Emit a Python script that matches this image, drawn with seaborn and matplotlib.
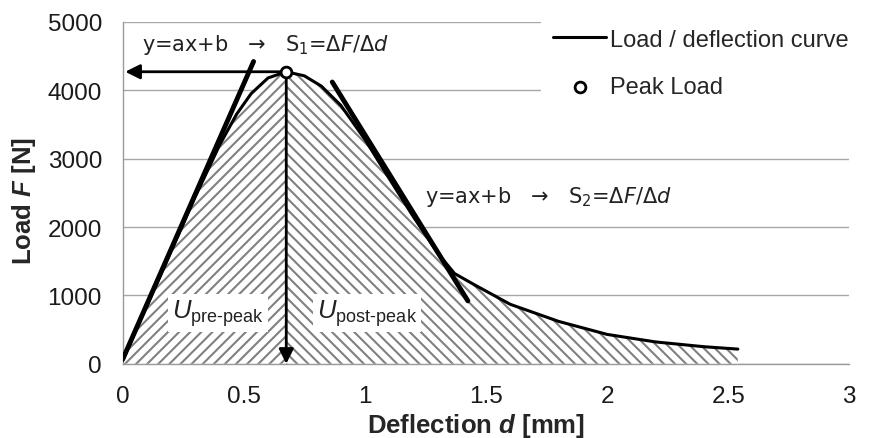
import numpy as np
import pandas as pd
import matplotlib
matplotlib.use("Agg")
import matplotlib.pyplot as plt
import seaborn as sns

# -------------------------------
# data
# -------------------------------
deflection = [0.0, 0.1, 0.2, 0.3, 0.4, 0.47, 0.53, 0.6, 0.675, 0.75, 0.82, 0.9,
              1.0, 1.1, 1.2, 1.3, 1.37, 1.45, 1.6, 1.8, 2.0, 2.2, 2.4, 2.54]
load = [50, 850, 1650, 2450, 3200, 3650, 3950, 4180, 4270, 4210, 4060, 3780,
        3280, 2710, 2150, 1620, 1320, 1160, 870, 620, 430, 320, 250, 215]

# tangent lines (start / end points)
tan1_d = [0.0, 0.54]
tan1_F = [70, 4420]
tan2_d = [0.865, 1.425]
tan2_F = [4120, 920]

x_ticks = [0, 0.5, 1, 1.5, 2, 2.5, 3]
x_tick_labels = ["0", "0.5", "1", "1.5", "2", "2.5", "3"]
y_ticks = [0, 1000, 2000, 3000, 4000, 5000]

df = pd.DataFrame({"d": deflection, "F": load})
ipk = int(np.argmax(load))
peak_d, peak_F = deflection[ipk], load[ipk]

# -------------------------------
# style
# -------------------------------
sns.set_style("white")
plt.rcParams["font.family"] = ["Liberation Sans", "DejaVu Sans"]
plt.rcParams["mathtext.fontset"] = "custom"
plt.rcParams["mathtext.rm"] = "Liberation Sans"
plt.rcParams["mathtext.it"] = "DejaVu Sans:italic"
plt.rcParams["mathtext.sf"] = "DejaVu Sans"
plt.rcParams["mathtext.cal"] = "Liberation Sans:italic"
plt.rcParams["mathtext.bfit"] = "Liberation Sans:italic:bold"
plt.rcParams["hatch.linewidth"] = 1.5

fig = plt.figure(figsize=(8.71, 4.39), dpi=100)
ax = fig.add_axes([0.141, 0.169, 0.834, 0.779])

# hatched areas under the curve
pre = df[df.d <= peak_d]
post = df[df.d >= peak_d]
ax.fill_between(pre.d, 0, pre.F, facecolor="white", edgecolor="#808080",
                hatch="///", linewidth=0, zorder=1)
ax.fill_between(post.d, 0, post.F, facecolor="white", edgecolor="#808080",
                hatch="\\\\\\", linewidth=0, zorder=1)

# curve, tangents, peak
sns.lineplot(data=df, x="d", y="F", color="black", linewidth=2.2, ax=ax,
             label="Load / deflection curve", zorder=3)
ax.plot(tan1_d, tan1_F, color="black", linewidth=3.5, solid_capstyle="round", zorder=4)
ax.plot(tan2_d, tan2_F, color="black", linewidth=3.5, solid_capstyle="round", zorder=4)
sns.scatterplot(x=[peak_d], y=[peak_F], marker="o", s=60, facecolor="white",
                edgecolor="black", linewidth=2, ax=ax, label="Peak Load", zorder=6)

# arrows from the peak to the axes
arrow = dict(arrowstyle="-|>", color="black", lw=2, mutation_scale=22, shrinkA=0, shrinkB=0)
ax.annotate("", xy=(0.01, peak_F), xytext=(peak_d, peak_F), arrowprops=arrow, zorder=5)
ax.annotate("", xy=(peak_d, 0), xytext=(peak_d, peak_F), arrowprops=arrow, zorder=5)

# text
ax.text(0.078, 4590, r"y=ax+b   →   S$_\mathsf{1}$=Δ$F$/Δ$d$", fontsize=15,
        family="DejaVu Sans", va="baseline", ha="left", color="#222222", zorder=7)
ax.text(1.248, 2368, r"y=ax+b   →   S$_\mathsf{2}$=Δ$F$/Δ$d$", fontsize=15,
        family="DejaVu Sans", va="baseline", ha="left", color="#222222", zorder=7)
box = dict(facecolor="white", edgecolor="none", pad=2.5)
ax.text(0.393, 745, r"$\mathcal{U}_{\text{pre-peak}}$", fontsize=18.5, ha="center",
        va="center", bbox=box, color="#222222", zorder=7)
ax.text(1.008, 745, r"$\mathcal{U}_{\text{post-peak}}$", fontsize=18.5, ha="center",
        va="center", bbox=box, color="#222222", zorder=7)

# axes
ax.set_xlim(0, 3)
ax.set_ylim(0, 5000)
ax.set_xticks(x_ticks)
ax.set_xticklabels(x_tick_labels)
ax.set_yticks(y_ticks)
ax.yaxis.grid(True, color="#a8a8a8", linewidth=1)
ax.set_axisbelow(True)
for s in ["top", "right"]:
    ax.spines[s].set_visible(False)
for s in ["left", "bottom"]:
    ax.spines[s].set_color("#9a9a9a")
    ax.spines[s].set_linewidth(1)
ax.tick_params(axis="both", direction="out", length=6, width=1, color="#9a9a9a",
               labelsize=17.5, labelcolor="#1a1a1a", pad=9)
ax.set_xlabel(r"Deflection $\mathbfit{d}$ [mm]", fontsize=18.5, fontweight="bold")
ax.set_ylabel(r"Load $\mathbfit{F}$ [N]", fontsize=18.5, fontweight="bold")
ax.xaxis.set_label_coords(0.486, -0.137)
ax.yaxis.set_label_coords(-0.117, 0.48)

leg = ax.legend(loc="upper right", bbox_to_anchor=(1.015, 1.015), fontsize=17,
                frameon=True, handlelength=2.25, handletextpad=0.15, labelspacing=1.1,
                borderpad=0.5, borderaxespad=0)
leg.get_frame().set_facecolor("white")
leg.get_frame().set_edgecolor("none")
leg.get_frame().set_alpha(1)
leg.set_zorder(8)

fig.savefig("out.png", dpi=100)
